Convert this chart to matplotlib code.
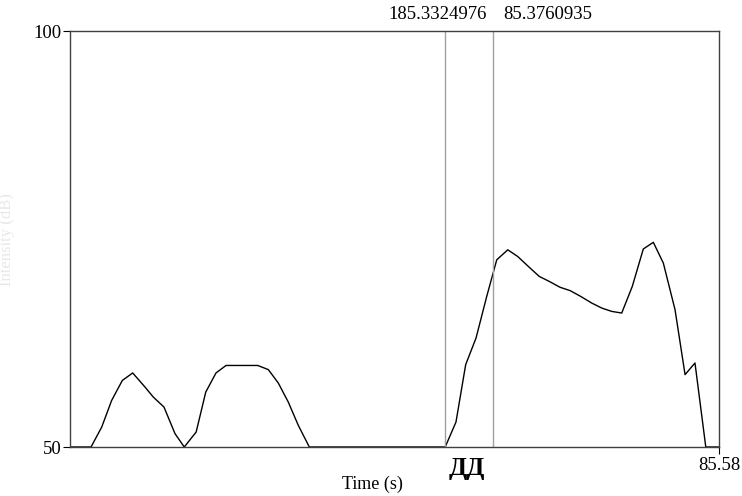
import matplotlib
matplotlib.use("Agg")
import matplotlib.pyplot as plt

plt.rcParams['font.family'] = ['Liberation Serif', 'DejaVu Serif']

# intensity contour (time in s, intensity in dB), floor values shown at 50
time = [84.992, 85.0111, 85.0208, 85.0298, 85.0395, 85.0489, 85.0601, 85.0676,
        85.0773, 85.0873, 85.0957, 85.1065, 85.1152, 85.1245, 85.1336, 85.1433,
        85.1529, 85.1624, 85.1720, 85.1810, 85.1901, 85.1992, 85.2092,
        85.3325, 85.3423, 85.3511, 85.3605, 85.3702, 85.3793, 85.3893, 85.3983,
        85.4080, 85.4179, 85.4270, 85.4367, 85.4458, 85.4555, 85.4655, 85.4746,
        85.4836, 85.4927, 85.5023, 85.5123, 85.5214, 85.5305, 85.5411, 85.5502,
        85.5592, 85.5690, 85.581]
intensity = [50, 50, 52.4, 55.6, 58.0, 58.9, 57.2, 56.0,
             54.8, 51.6, 50, 51.8, 56.6, 58.9, 59.8, 59.8,
             59.8, 59.8, 59.3, 57.7, 55.4, 52.6, 50,
             50, 53.0, 59.9, 63.1, 68.1, 72.5, 73.7, 72.9,
             71.7, 70.5, 69.9, 69.2, 68.8, 68.1, 67.3, 66.7,
             66.3, 66.1, 69.3, 73.8, 74.6, 72.1, 66.5, 58.7,
             60.1, 50, 50]

cursors = [85.3324976, 85.3760935]
cursor_labels = ["185.3324976", "85.3760935"]
x_min, x_max = 84.992, 85.581
y_min, y_max = 50, 100

fig = plt.figure(figsize=(7.42, 4.96), dpi=100)
ax = fig.add_axes([70 / 742, 1 - 447 / 496, 649 / 742, 416 / 496])

ax.plot(time, intensity, color='black', lw=1.0)
for c in cursors:
    ax.axvline(c, color='#a0a0a0', lw=1.0)

ax.set_xlim(x_min, x_max)
ax.set_ylim(y_min, y_max)

for s in ax.spines.values():
    s.set_color('#404040')
    s.set_linewidth(1.0)

ax.set_yticks([y_min, y_max])
ax.set_yticklabels(['50', '100'], fontsize=13.5)
ax.tick_params(axis='y', direction='out', length=5, width=0.8, pad=1)
ax.set_xticks([x_max])
ax.set_xticklabels(['85.58'], fontsize=13.5)
ax.tick_params(axis='x', direction='out', length=5, width=0.8, pad=2)

# cursor times above the frame
ax.text(cursors[1] - 0.006, y_max + 1.0, cursor_labels[0], ha='right', va='bottom', fontsize=13.5)
ax.text(cursors[1] + 0.009, y_max + 1.0, cursor_labels[1], ha='left', va='bottom', fontsize=13.5)

ax.text(85.3525, 47.4, "ДД", ha='center', va='center', fontsize=19, fontweight='bold')
fig.text(372 / 742, 1 - 484 / 496, "Time (s)", ha='center', va='center', fontsize=13)
fig.text(7 / 742, 1 - 240 / 496, "Intensity (dB)", rotation=90, ha='center', va='center',
         fontsize=12, color='#e8e8e8')

fig.savefig("out.png", dpi=100)
